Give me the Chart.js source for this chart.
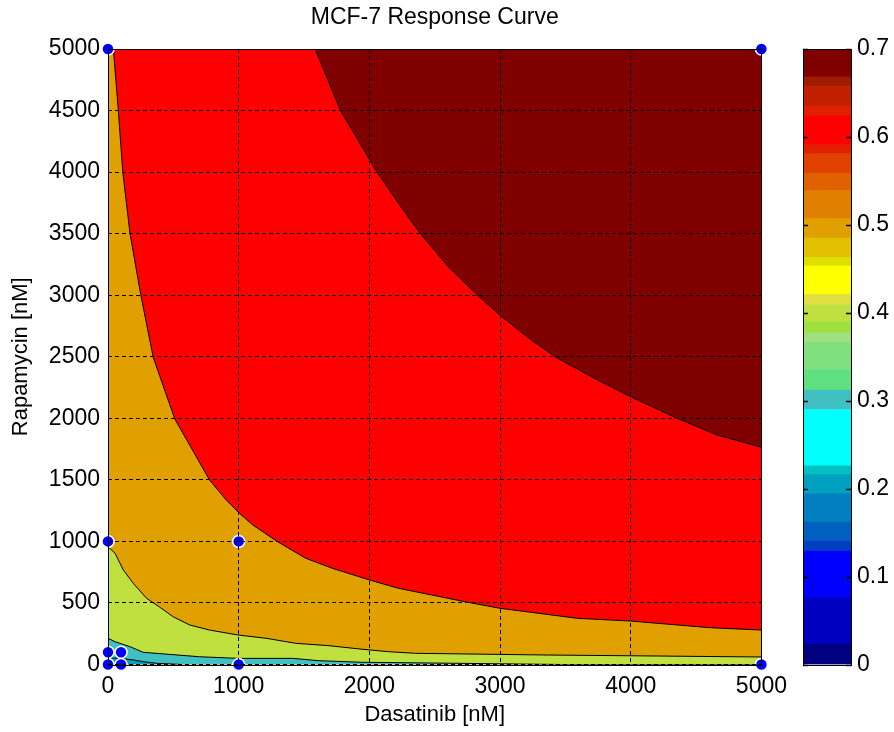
<!DOCTYPE html>
<html lang="en">
<head>
<meta charset="UTF-8">
<title>MCF-7 Response Curve</title>
<script src="https://cdn.jsdelivr.net/npm/chart.js@4.4.1/dist/chart.umd.min.js"></script>
<style>
    body { margin: 0; background: #fff; }
    #main { position: absolute; left: 0; top: 0; }
    #cbar { position: absolute; left: 795px; top: 0; }
</style>
</head>
<body>
<canvas id="main" width="795" height="732"></canvas>
<canvas id="cbar" width="99" height="732"></canvas>

<script>
// tick values
const xTickValues = [0, 1000, 2000, 3000, 4000, 5000];
const yTickValues = [0, 500, 1000, 1500, 2000, 2500, 3000, 3500, 4000, 4500, 5000];
const cbarTickValues = [0, 0.1, 0.2, 0.3, 0.4, 0.5, 0.6, 0.7];

// measured combinations [Dasatinib, Rapamycin]
const samplePoints = [[0, 5000], [5000, 5000], [0, 1000], [1000, 1000], [0, 0], [0, 100], [100, 0], [100, 100], [1000, 0], [5000, 0]];

// contour boundaries, each one separates two filled bands
const edgeDarkRed = [[0, 5000], [1585, 5000], [1779, 4500], [1995, 4113], [2058, 4002], [2222, 3748], [2388, 3504], [2603, 3233], [2819, 3008], [2997, 2840], [3238, 2637], [3441, 2488], [3745, 2312], [3998, 2176], [4354, 2001], [4658, 1866], [5000, 1765]];
const edgeRed = [[0, 5000], [41, 5000], [79, 4500], [113, 4002], [168, 3504], [250, 3008], [346, 2496], [511, 1995], [777, 1499], [904, 1337], [1005, 1229], [1107, 1134], [1297, 998], [1513, 863], [1715, 782], [2000, 687], [2223, 619], [2476, 565], [2731, 510], [2997, 457], [3593, 375], [3998, 353], [4607, 299], [5000, 280]];
const edgeOrange = [[0, 957], [54, 904], [117, 768], [193, 660], [295, 538], [397, 465], [498, 388], [625, 321], [777, 280], [992, 240], [1209, 213], [1437, 172], [1690, 153], [1944, 124], [2147, 104], [2350, 91], [3365, 77], [4202, 69], [5000, 61]];
const edgeGreen = [[0, 213], [54, 185], [168, 145], [269, 99], [701, 63], [992, 50], [1411, 50], [1614, 31], [1944, 18], [2655, 10], [3485, 0], [5000, 0]];
const edgeTeal = [[0, 55], [92, 50], [193, 37], [269, 23], [371, 10], [565, 0]];
const topEdge = [[0, 5000], [5000, 5000]];

// colorbar band limits (bottom to top)
const cbarLevels = [0, 0.023, 0.076, 0.129, 0.141, 0.162, 0.194, 0.216, 0.226, 0.290, 0.312, 0.335, 0.366, 0.377, 0.390, 0.409, 0.421, 0.453, 0.463, 0.485, 0.507, 0.539, 0.559, 0.581, 0.591, 0.624, 0.635, 0.658, 0.668, 0.7];

// colours
const cbarColors = ['#000080', '#0000c0', '#0000ff', '#0040c0', '#0060c0', '#0080c0', '#00a0c0', '#00c0c0', '#00ffff', '#40c0c0',
    '#60e080', '#80e080', '#a0e080', '#a0e040', '#c0e040', '#e0e040', '#ffff00', '#e0e000', '#e0c000', '#e0a000',
    '#e08000', '#e06000', '#e04000', '#e02000', '#ff0000', '#e02000', '#c02000', '#a01c00', '#800000'];

Chart.defaults.font.family = '"Liberation Sans", Arial, sans-serif';
Chart.defaults.font.size = 23;
Chart.defaults.color = '#000';
Chart.defaults.animation = false;

// black box around the plot area
const frame = {
    id: 'frame',
    afterDraw(chart) {
        const a = chart.chartArea;
        const ctx = chart.ctx;
        ctx.save();
        ctx.strokeStyle = '#000';
        ctx.lineWidth = 1;
        ctx.strokeRect(Math.round(a.left) + 0.5, Math.round(a.top) + 0.5, Math.round(a.right - a.left), Math.round(a.bottom - a.top));
        ctx.restore();
    }
};

// small inward tick marks on both sides of the colorbar
const innerTicks = {
    id: 'innerTicks',
    afterDraw(chart) {
        const a = chart.chartArea;
        const s = chart.scales.y;
        const ctx = chart.ctx;
        ctx.save();
        ctx.strokeStyle = '#000';
        ctx.lineWidth = 1.5;
        s.ticks.forEach(t => {
            const py = Math.round(s.getPixelForValue(t.value)) + 0.5;
            ctx.beginPath();
            ctx.moveTo(a.left, py); ctx.lineTo(a.left + 5, py);
            ctx.moveTo(a.right - 5, py); ctx.lineTo(a.right, py);
            ctx.stroke();
        });
        ctx.restore();
    }
};

const toXY = arr => arr.map(p => ({ x: p[0], y: p[1] }));

function band(edge, color) {
    return {
        data: toXY(edge),
        borderColor: '#000',
        borderWidth: 1,
        backgroundColor: color,
        fill: 'start',
        pointRadius: 0,
        tension: 0
    };
}

new Chart(document.getElementById('main'), {
    type: 'line',
    data: {
        datasets: [
            {
                data: toXY(samplePoints),
                showLine: false,
                pointRadius: 6,
                pointBackgroundColor: '#0000ff',
                pointBorderColor: '#fff',
                pointBorderWidth: 1.5,
                clip: false
            },
            band(edgeTeal, '#00a0c0'),
            band(edgeGreen, '#40c0c0'),
            band(edgeOrange, '#c0e040'),
            band(edgeRed, '#e0a000'),
            band(edgeDarkRed, '#ff0000'),
            band(topEdge, '#800000')
        ]
    },
    options: {
        responsive: false,
        layout: { padding: { left: 0, right: 30, top: 0, bottom: 0 } },
        plugins: { legend: { display: false }, tooltip: { enabled: false } },
        scales: {
            x: {
                type: 'linear', min: 0, max: 5000,
                afterBuildTicks: s => { s.ticks = xTickValues.map(v => ({ value: v })); },
                afterFit: s => { s.height = 67.5; },
                ticks: { padding: 8, callback: v => String(v) },
                grid: { color: '#000', z: 1, drawTicks: false },
                border: { display: false, dash: [4, 3] },
                title: { display: true, text: 'Dasatinib [nM]', font: { size: 22 }, padding: { top: 0, bottom: 4 } }
            },
            y: {
                type: 'linear', min: 0, max: 5000,
                afterBuildTicks: s => { s.ticks = yTickValues.map(v => ({ value: v })); },
                afterFit: s => { s.width = 108; },
                ticks: { padding: 8, callback: v => String(v) },
                grid: { color: '#000', z: 1, drawTicks: false },
                border: { display: false, dash: [4, 3] },
                title: { display: true, text: 'Rapamycin [nM]', font: { size: 22 }, padding: { top: 8, bottom: 0 } }
            },
            xTop: {
                type: 'linear', position: 'top', min: 0, max: 5000,
                afterFit: s => { s.height = 49; },
                ticks: { display: false },
                grid: { display: false },
                border: { display: false },
                title: { display: true, text: 'MCF-7 Response Curve', padding: { top: 4, bottom: 0 } }
            }
        }
    },
    plugins: [frame]
});

// colorbar
new Chart(document.getElementById('cbar'), {
    type: 'bar',
    data: {
        labels: [''],
        datasets: cbarColors.map((c, i) => ({
            data: [[cbarLevels[i], cbarLevels[i + 1]]],
            backgroundColor: c,
            borderWidth: 0,
            barPercentage: 1,
            categoryPercentage: 1,
            grouped: false
        }))
    },
    options: {
        responsive: false,
        layout: { padding: { left: 8, right: 0, top: 49, bottom: 67.5 } },
        plugins: { legend: { display: false }, tooltip: { enabled: false } },
        scales: {
            x: { display: false },
            y: {
                position: 'right', min: 0, max: 0.7,
                afterBuildTicks: s => { s.ticks = cbarTickValues.map(v => ({ value: v })); },
                afterFit: s => { s.width = 43; },
                ticks: { padding: 6, callback: v => String(v) },
                grid: { display: false, drawTicks: false },
                border: { display: false }
            }
        }
    },
    plugins: [frame, innerTicks]
});
</script>
</body>
</html>
